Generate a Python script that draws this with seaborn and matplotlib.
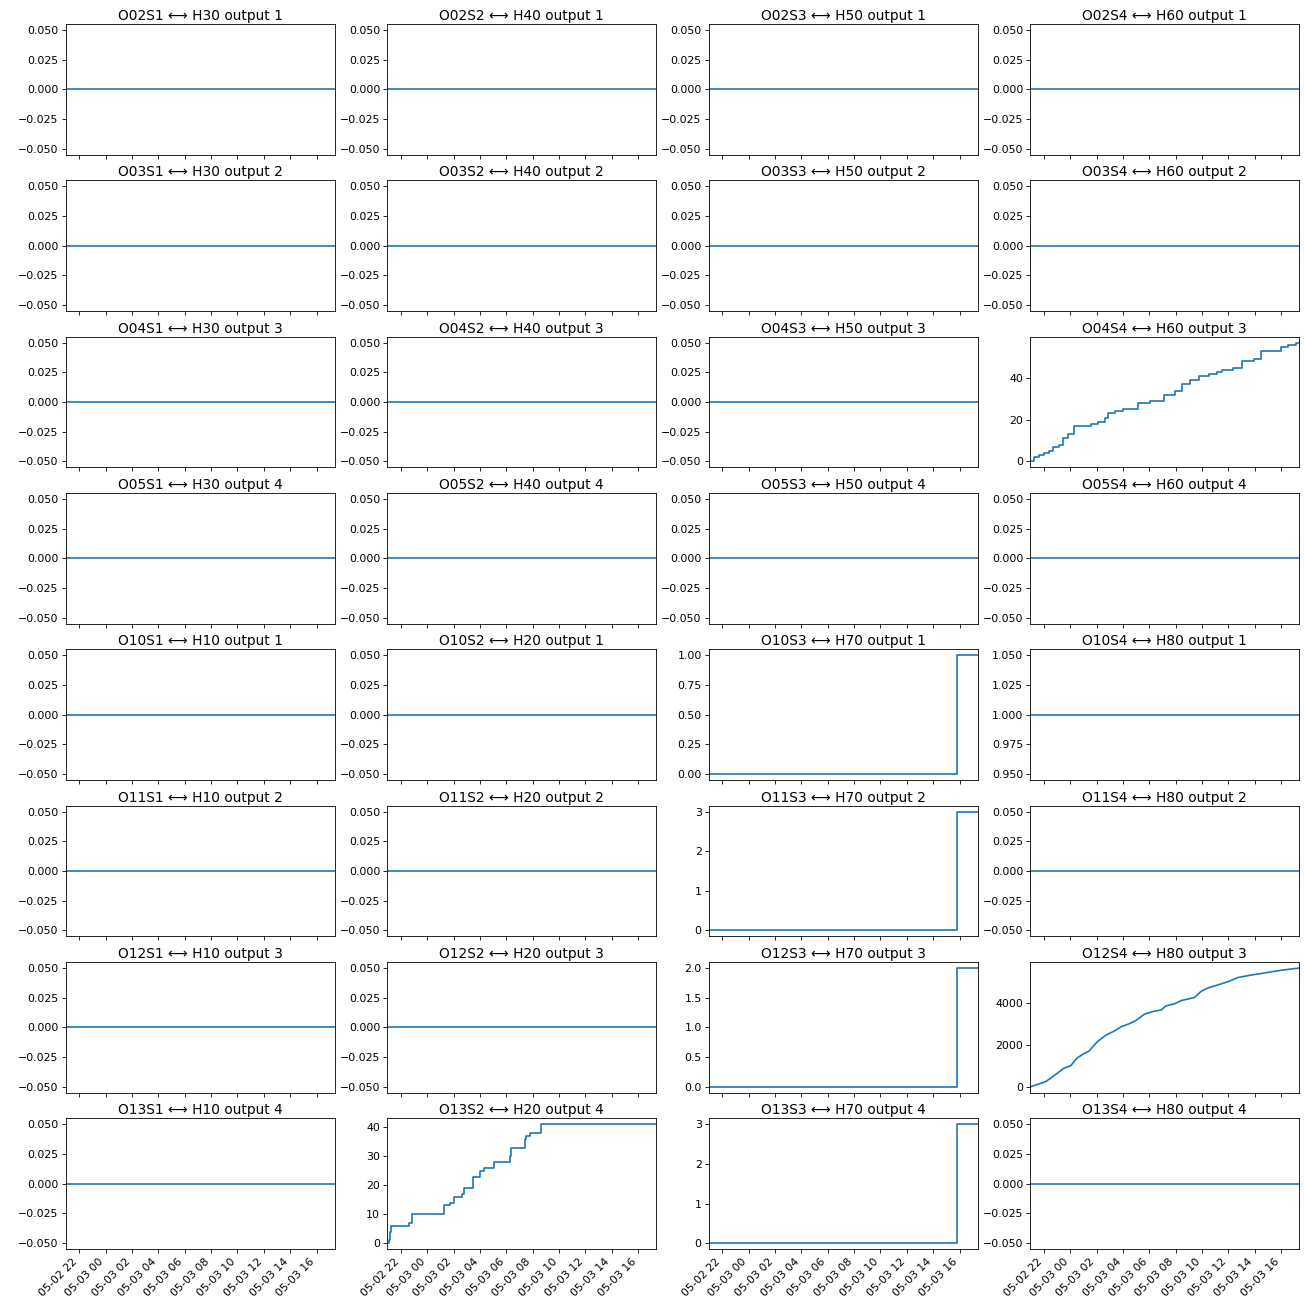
import matplotlib
matplotlib.use("Agg")
import matplotlib.pyplot as plt
import matplotlib.dates as mdates
from matplotlib.ticker import MaxNLocator
import numpy as np
import pandas as pd
import seaborn as sns

# Observation window
t_start = "2024-05-02 20:59"
t_end = "2024-05-03 17:22"

# Grid layout: stations (rows) x sensors (columns)
stations = ["O02", "O03", "O04", "O05", "O10", "O11", "O12", "O13"]
sensors = ["S1", "S2", "S3", "S4"]
hubs_upper = ["H30", "H40", "H50", "H60"]
hubs_lower = ["H10", "H20", "H70", "H80"]

# O04S4 -> H60 output 3 (cumulative counter, stepwise)
o04s4_times = ["2024-05-02 20:59", "2024-05-02 21:14", "2024-05-02 21:38", "2024-05-02 22:01",
               "2024-05-02 22:24", "2024-05-02 22:40", "2024-05-02 23:10", "2024-05-02 23:25",
               "2024-05-02 23:52", "2024-05-03 00:19", "2024-05-03 01:35", "2024-05-03 02:06",
               "2024-05-03 02:37", "2024-05-03 02:52", "2024-05-03 03:23", "2024-05-03 04:01",
               "2024-05-03 05:10", "2024-05-03 06:04", "2024-05-03 07:05", "2024-05-03 07:58",
               "2024-05-03 08:29", "2024-05-03 09:07", "2024-05-03 09:46", "2024-05-03 10:31",
               "2024-05-03 11:10", "2024-05-03 11:32", "2024-05-03 12:19", "2024-05-03 13:04",
               "2024-05-03 13:58", "2024-05-03 14:28", "2024-05-03 16:01", "2024-05-03 16:31",
               "2024-05-03 17:09"]
o04s4_values = [0, 2, 3, 4, 5, 7, 8, 11, 13, 17, 18, 19, 21, 23, 24, 25, 28, 29, 32, 34,
                37, 39, 41, 42, 43, 44, 45, 48, 49, 53, 55, 56, 57]

# O13S2 -> H20 output 4 (cumulative counter, stepwise)
o13s2_times = ["2024-05-02 20:59", "2024-05-02 21:08", "2024-05-02 21:11", "2024-05-02 21:15",
               "2024-05-02 22:37", "2024-05-02 22:50", "2024-05-03 01:17", "2024-05-03 01:42",
               "2024-05-03 02:03", "2024-05-03 02:38", "2024-05-03 02:49", "2024-05-03 03:27",
               "2024-05-03 03:59", "2024-05-03 04:20", "2024-05-03 05:06", "2024-05-03 06:19",
               "2024-05-03 06:22", "2024-05-03 07:25", "2024-05-03 07:28", "2024-05-03 07:50",
               "2024-05-03 08:36"]
o13s2_values = [0, 1, 4, 6, 7, 10, 13, 14, 16, 17, 19, 23, 25, 26, 28, 30, 33, 36, 37, 38, 41]

# O12S4 -> H80 output 3 (cumulative total, smooth)
o12s4_times = ["2024-05-02 20:59", "2024-05-02 22:08", "2024-05-02 22:30", "2024-05-02 23:01",
               "2024-05-02 23:31", "2024-05-03 00:02", "2024-05-03 00:33", "2024-05-03 01:03",
               "2024-05-03 01:26", "2024-05-03 02:04", "2024-05-03 02:42", "2024-05-03 03:20",
               "2024-05-03 03:51", "2024-05-03 04:29", "2024-05-03 04:59", "2024-05-03 05:37",
               "2024-05-03 06:23", "2024-05-03 06:54", "2024-05-03 07:16", "2024-05-03 07:55",
               "2024-05-03 08:25", "2024-05-03 09:26", "2024-05-03 09:57", "2024-05-03 10:27",
               "2024-05-03 11:13", "2024-05-03 11:58", "2024-05-03 12:44", "2024-05-03 13:45",
               "2024-05-03 14:46", "2024-05-03 16:03", "2024-05-03 17:22"]
o12s4_values = [0, 240, 400, 640, 880, 1000, 1380, 1580, 1700, 2150, 2450, 2650, 2850, 3000,
                3150, 3450, 3600, 3650, 3850, 3950, 4100, 4250, 4550, 4700, 4850, 5000, 5200,
                5320, 5420, 5550, 5650]

# H70 outputs: single jump late in the window
h70_jump_time = "2024-05-03 15:50"
h70_levels = {"O10S3": 1, "O11S3": 3, "O12S3": 2, "O13S3": 3}

# O10S4 -> H80 output 1 stays at a constant level
o10s4_level = 1

# (times, values, stepwise) for every panel that is not flat at zero
series = {
    "O04S4": (o04s4_times, o04s4_values, True),
    "O13S2": (o13s2_times, o13s2_values, True),
    "O12S4": (o12s4_times, o12s4_values, False),
    "O10S4": ([t_start], [o10s4_level], True),
}
for key, level in h70_levels.items():
    series[key] = ([t_start, h70_jump_time], [0, level], True)

plt.rcParams["font.size"] = 10.5
plt.rcParams["axes.titlesize"] = 13.2

fig, axes = plt.subplots(len(stations), len(sensors), sharex=True,
                         figsize=(1304 / 75, 1297 / 75), dpi=75)
fig.subplots_adjust(left=0.0506, right=0.9962, top=0.9815, bottom=0.037,
                    wspace=0.197, hspace=0.198)

x0, x1 = pd.Timestamp(t_start), pd.Timestamp(t_end)

for r, st in enumerate(stations):
    for c, se in enumerate(sensors):
        ax = axes[r, c]
        key = st + se
        times, values, stepwise = series.get(key, ([t_start], [0], True))
        t = list(pd.to_datetime(times))
        v = list(values)
        if stepwise:
            # hold the last level until the end of the window
            t.append(x1)
            v.append(v[-1])
        df = pd.DataFrame({"time": t, "value": v})
        sns.lineplot(data=df, x="time", y="value", ax=ax, color="C0",
                     estimator=None, linewidth=1.6,
                     drawstyle="steps-post" if stepwise else "default")
        if r < 4:
            hub = hubs_upper[c]
            out = r + 1
        else:
            hub = hubs_lower[c]
            out = r - 3
        ax.set_title(f"{key} \u27f7 {hub} output {out}", pad=4)
        ax.set_xlabel("")
        ax.set_ylabel("")
        ax.yaxis.set_major_locator(MaxNLocator(nbins=5, steps=[1, 2, 2.5, 5, 10]))

axes[0, 0].set_xlim(x0, x1)
for ax in axes[-1]:
    ax.xaxis.set_major_locator(mdates.HourLocator(interval=2))
    ax.xaxis.set_major_formatter(mdates.DateFormatter("%m-%d %H"))
    plt.setp(ax.get_xticklabels(), rotation=45, ha="right")

fig.savefig("out.png", dpi=75)
